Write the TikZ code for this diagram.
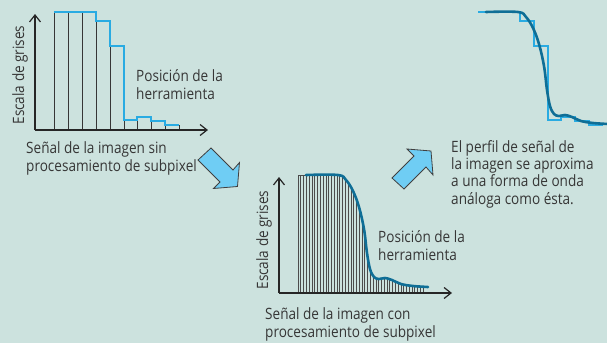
\documentclass[tikz,border=0pt]{standalone}
\usepackage{fontspec}
\setmainfont[FakeStretch=0.87]{Open Sans}
\usetikzlibrary{arrows.meta}
\definecolor{panelbg}{HTML}{CCE2DE}
\definecolor{stepcyan}{HTML}{29ABE2}
\definecolor{profileblue}{HTML}{0F6E96}
\definecolor{arrowfill}{HTML}{6FCDF4}
\definecolor{ink}{HTML}{363636}
\tikzset{>={Straight Barb[length=7pt,width=11pt]},
  every node/.style={font=\fontsize{15.6}{17.3}\selectfont,text=ink,inner sep=0pt},
  axis/.style={->,draw=black!85,line width=1.2pt},
  bar/.style={draw=ink,line width=.9pt},
  steps/.style={draw=stepcyan,line width=1.4pt},
  profile/.style={draw=profileblue,line width=2.6pt,line cap=round},
  sample/.style={draw=black!70,line width=.6pt},
  bigarrow/.style={fill=arrowfill,draw=black!75,line width=.8pt},
  label/.style={align=left,anchor=base west},
  % pixel levels and the smooth edge, in panel coordinates
  pixel steps/.style={insert path={(0,12)--(42,12)--(42,21)--(56,21)--(56,46)--(70,46)--(70,120)--(83,120)--(83,117)--(97,117)--(97,121)--(111,121)--(111,125)--(125,125)}},
  edge profile/.style={insert path={-- plot[smooth,tension=.6] coordinates {(8,12) (40,12) (48,17) (55,28) (61,44) (66,66) (69,90) (72,106) (76,114) (81,116) (87,115) (94,117) (103,121) (115,123) (130,124)}}}}

\begin{document}
\begin{tikzpicture}[x=1pt,y=-1pt]
\fill[panelbg] (0,0) rectangle (607,343);
\useasboundingbox (0,0) rectangle (607,343);
% without subpixel processing
\begin{scope}[shift={(54,0)}]
\foreach \a/\b/\h in {0/14/12,14/28/12,28/42/12,42/56/21,56/70/46,70/83/120,83/97/117,97/111/121,111/125/125}
  \draw[bar] (\a,130) rectangle (\b,\h);
\draw[steps] [pixel steps];
\coordinate (oA) at (-19,130);
\coordinate (yA) at (-19,14);
\coordinate (xA) at (154,130);
\draw[axis] (oA) -- (yA);
\draw[axis] (oA) -- (xA);
\end{scope}
% with subpixel processing
\begin{scope}[shift={(298,163)}]
\begin{scope}
\clip (0,130) -- (0,12) -- (8,12) [edge profile] -- (130,130) -- cycle;
\foreach \i in {0,...,45} \draw[sample] ({\i*2.78},0) -- ({\i*2.78},130);
\end{scope}
\draw[sample] (0,12) -- (8,12);
\draw[profile] (8,12) [edge profile];
\coordinate (oB) at (-19,130);
\coordinate (yB) at (-19,14);
\coordinate (xB) at (154,130);
\draw[axis] (oB) -- (yB);
\draw[axis] (oB) -- (xB);
\end{scope}
% approximated profile
\begin{scope}[shift={(478,0)}]
\draw[steps] [pixel steps];
\draw[profile] (8,12) [edge profile];
\end{scope}
% block arrows
\draw[bigarrow] (198,160) -- (211,148) -- (233,170) -- (239.5,162.5) -- (237.5,186.5) -- (213.5,188.5) -- (220,182) -- cycle;
\draw[bigarrow] (392,178) -- (414,156) -- (407,149) -- (431,151) -- (433,175) -- (426,167) -- (404,189) -- cycle;
% labels
\node[rotate=90,anchor=base] (greyA) at (24,75) {Escala de grises};
\node[label] (toolA) at (136,99) {Posición de la\\herramienta};
\node[label] (signalA) at (26,171) {Señal de la imagen sin\\procesamiento de subpixel};
\node[rotate=90,anchor=base] (greyB) at (268,240) {Escala de grises};
\node[label] (toolB) at (378,260) {Posición de la\\herramienta};
\node[label] (signalB) at (265,337) {Señal de la imagen con\\procesamiento de subpixel};
\node[label] (note) at (451,204) {El perfil de señal de\\la imagen se aproxima\\a una forma de onda\\análoga como ésta.};
\end{tikzpicture}
\end{document}
